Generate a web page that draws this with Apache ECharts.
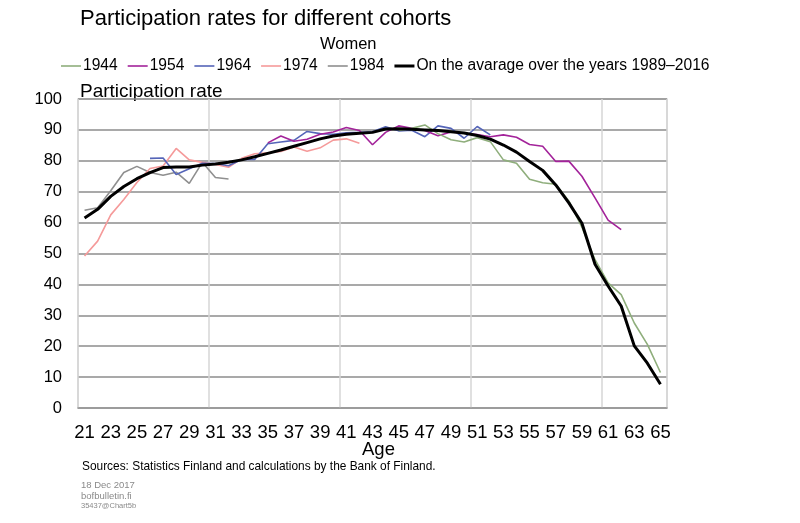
<!DOCTYPE html>
<html>
<head>
<meta charset="utf-8">
<script src="https://cdn.jsdelivr.net/npm/echarts@6/dist/echarts.min.js"></script>
<style>
html,body{margin:0;padding:0;background:#fff;}
#chart{width:800px;height:523px;}
</style>
</head>
<body>
<div id="chart"></div>
<script>
const ages = ['21','22','23','24','25','26','27','28','29','30','31','32','33','34','35','36','37','38','39','40','41','42','43','44','45','46','47','48','49','50','51','52','53','54','55','56','57','58','59','60','61','62','63','64','65'];
const yTicks = [0,10,20,30,40,50,60,70,80,90,100];

// ages 21..65; null = no observation
const c1944 = [null,null,null,null,null,null,null,null,null,null,null,null,null,null,null,null,null,null,null,null,null,null,null,null,
  89.8,90.5,91.6,88.8,86.8,86.1,87.5,86.2,80.3,79.2,74.0,72.9,72.4,67.0,58.5,48.0,40.5,36.7,27.5,20.6,11.5];
const c1954 = [null,null,null,null,null,null,null,null,null,null,null,null,null,null,
  85.8,88.0,86.3,87.0,88.6,89.3,90.8,89.8,85.2,89.2,91.3,90.5,89.8,88.1,89.3,88.9,88.5,87.8,88.4,87.6,85.3,84.7,79.8,79.9,75.0,68.0,60.8,57.7,null,null,null];
const c1964 = [null,null,null,null,null,
  80.8,80.9,75.6,77.4,79.2,79.1,78.4,80.4,80.4,85.5,86.1,86.6,89.5,88.8,88.6,89.1,89.2,89.4,91.0,89.7,89.9,87.8,91.3,90.5,87.3,91.1,88.4,
  null,null,null,null,null,null,null,null,null,null,null,null,null];
const c1974 = [49.2,54.0,62.5,67.5,73.0,77.5,78.3,84.0,80.3,79.5,78.8,77.9,80.8,82.3,82.6,83.0,84.5,83.1,84.2,86.7,87.1,85.7,
  null,null,null,null,null,null,null,null,null,null,null,null,null,null,null,null,null,null,null,null,null,null,null];
const c1984 = [64.0,64.8,70.3,76.2,78.2,76.2,75.3,76.3,72.7,79.5,74.6,74.1,
  null,null,null,null,null,null,null,null,null,null,null,null,null,null,null,null,null,null,null,null,null,null,null,null,null,null,null,null,null,null,null,null,null];
const average = [61.5,64.3,68.5,71.7,74.2,76.2,77.8,78.0,78.0,78.6,79.0,79.5,80.3,81.3,82.4,83.5,84.7,85.9,87.1,88.0,88.6,88.9,89.2,90.3,90.4,
  90.2,90.0,89.8,89.4,89.0,88.2,87.0,85.1,82.8,79.8,76.9,72.2,66.4,59.8,46.5,39.5,33.0,20.1,14.5,7.7];

const seriesNames = ['1944','1954','1964','1974','1984','On the avarage over the years 1989–2016'];
const seriesData = [c1944, c1954, c1964, c1974, c1984, average];
const seriesColors = ['#8fae7c','#a3239a','#5565b8','#f59a9a','#8f8f8f','#000000'];
const seriesWidths = [1.6,1.6,1.6,1.6,1.6,3];

const FONT = 'Liberation Sans, Arial, sans-serif';
const chart = echarts.init(document.getElementById('chart'), null, {renderer:'canvas'});

const thinIcon = 'path://M0,0H25V2H0Z';
const thickIcon = 'path://M0,0H20V3H0Z';

chart.setOption({
  animation:false,
  backgroundColor:'#fff',
  textStyle:{fontFamily:FONT},
  graphic:[
    {type:'text', left:80, top:8, style:{text:'Participation rates for different cohorts', fontSize:22, fontFamily:FONT, fill:'#000'}},
    {type:'text', left:320, top:36, style:{text:'Women', fontSize:16.5, fontFamily:FONT, fill:'#000'}},
    {type:'text', left:80, top:82, style:{text:'Participation rate', fontSize:19, fontFamily:FONT, fill:'#000'}},
    {type:'text', left:362, top:440, style:{text:'Age', fontSize:18.5, fontFamily:FONT, fill:'#000'}},
    {type:'text', left:82, top:461, style:{text:'Sources: Statistics Finland and calculations by the Bank of Finland.', fontSize:11.9, fontFamily:FONT, fill:'#000'}},
    {type:'text', left:81, top:480, style:{text:'18 Dec 2017', fontSize:9.5, fontFamily:FONT, fill:'#8a8a8a'}},
    {type:'text', left:81, top:491, style:{text:'bofbulletin.fi', fontSize:9.5, fontFamily:FONT, fill:'#8a8a8a'}},
    {type:'text', left:81, top:502, style:{text:'35437@Chart5b', fontSize:7.5, fontFamily:FONT, fill:'#8a8a8a'}}
  ],
  legend:{
    left:56, top:53,
    itemWidth:20, itemHeight:3, itemGap:10,
    textStyle:{fontSize:15.6, fontFamily:FONT, color:'#000', padding:[0,0,0,-3]},
    data:seriesNames.map((n,i)=>({name:n, icon: i===5 ? thickIcon : thinIcon}))
  },
  grid:{left:78, right:133, top:99, bottom:115, show:true, borderColor:'#d6d6d6', borderWidth:1.5, containLabel:false},
  xAxis:{
    type:'category', data:ages, boundaryGap:true,
    axisLine:{show:true, lineStyle:{color:'#9a9a9a', width:1.5}},
    axisTick:{show:false},
    axisLabel:{interval:1, fontSize:18.5, color:'#000', fontFamily:FONT, margin:15},
    splitLine:{show:true, interval:9, lineStyle:{color:'#d6d6d6', width:1.5}}
  },
  yAxis:{
    type:'value', min:yTicks[0], max:yTicks[yTicks.length-1], interval:10,
    axisLine:{show:false}, axisTick:{show:false},
    axisLabel:{fontSize:16.5, color:'#000', fontFamily:FONT, margin:16},
    splitLine:{show:true, lineStyle:{color:'#8c8c8c', width:1.5}}
  },
  series: seriesNames.map((n,i)=>({
    name:n, type:'line', data:seriesData[i], symbol:'none', connectNulls:false,
    color:seriesColors[i],
    lineStyle:{color:seriesColors[i], width:seriesWidths[i]},
    z: i===5 ? 10 : 5-i
  }))
});
</script>
</body>
</html>
